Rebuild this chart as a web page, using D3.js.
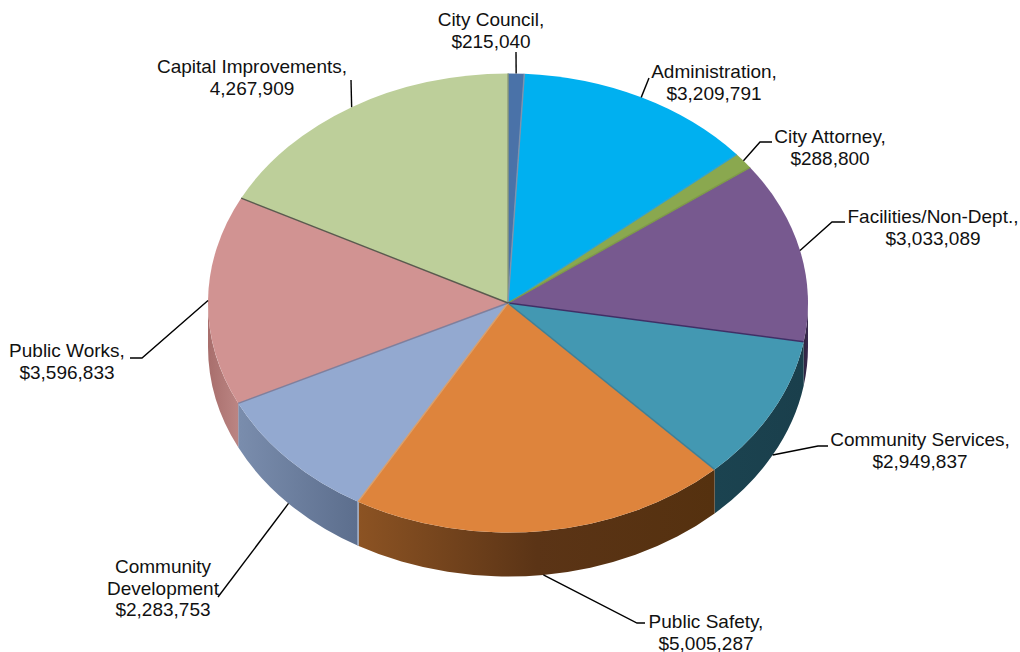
<!DOCTYPE html>
<html>
<head>
<meta charset="utf-8">
<script src="https://cdn.jsdelivr.net/npm/d3@7/dist/d3.min.js"></script>
<style>
  html, body { margin: 0; padding: 0; background: #fff; }
  svg { display: block; }
  text { font-family: "Liberation Sans", Arial, sans-serif; font-size: 19px; fill: #111; }
</style>
</head>
<body>
<svg id="chart" width="1020" height="652"></svg>
<script>
// Budget by department, clockwise from twelve o'clock
const departments = ["City Council", "Administration", "City Attorney", "Facilities/Non-Dept.",
  "Community Services", "Public Safety", "Community Development", "Public Works", "Capital Improvements"];
const budgets = [215040, 3209791, 288800, 3033089, 2949837, 5005287, 2283753, 3596833, 4267909];
const valueLabels = ["$215,040", "$3,209,791", "$288,800", "$3,033,089", "$2,949,837",
  "$5,005,287", "$2,283,753", "$3,596,833", "4,267,909"];

// Face, divider and rim colours per slice
const faceColors = ["#4a72a8", "#00b0f0", "#8aa84f", "#77598f", "#4398b2", "#de843c", "#93a9d0", "#d19392", "#bdcf9a"];
const dividerColors = ["#7f93ad", "#27a5d8", "#7e9a48", "#3f2f66", "#3f7f96", "#d9a06e", "#7f7f9c", "#5a5a4e", "#8e9b78"];
const rimStops = [
  null, null, null,
  ["#2f2340", "#3a2b4f"],
  ["#1b4350", "#1a3f4c"],
  ["#8c5323", "#5b3416", "#55310f"],
  ["#7a8dad", "#5c6e8d"],
  ["#a86e6c", "#bb8583"],
  null
];

// Tilted disc geometry
const cx = 508, cy = 303, rx = 300, ry = 229.5, depth = 44;
const rad = Math.PI / 180;

// The 3D view foreshortens angles a little as the disc turns towards the viewer
const viewAngle = d3.scaleLinear()
  .domain([0, 54, 98, 140, 213, 246, 298, 360].map(d => d * rad))
  .range([0, 54, 100, 136, 210, 244, 297, 360].map(d => d * rad));

const project = (a, drop = 0) => [cx + rx * Math.sin(a), cy - ry * Math.cos(a) + drop];

const svg = d3.select("#chart");
const defs = svg.append("defs");
const slices = d3.pie().sort(null).value(d => d)(budgets)
  .map(s => ({ ...s, a0: viewAngle(s.startAngle), a1: viewAngle(s.endAngle) }));

// Outer wall: only the part of each slice facing the viewer
const wallPath = (a0, a1) => {
  const [x0, y0] = project(a0);
  const [x1, y1] = project(a1);
  return `M${x0},${y0}A${rx},${ry} 0 0 1 ${x1},${y1}` +
         `L${x1},${y1 + depth}A${rx},${ry} 0 0 0 ${x0},${y0 + depth}Z`;
};

const walls = svg.append("g");
slices.forEach((s, i) => {
  const a0 = Math.max(s.a0, 90 * rad);
  const a1 = Math.min(s.a1, 270 * rad);
  if (a1 <= a0 || !rimStops[i]) return;
  const xs = [project(a0)[0], project(a1)[0]];
  const grad = defs.append("linearGradient")
    .attr("id", `rim${i}`)
    .attr("gradientUnits", "userSpaceOnUse")
    .attr("x1", d3.min(xs)).attr("x2", d3.max(xs))
    .attr("y1", 0).attr("y2", 0);
  rimStops[i].forEach((c, k, all) => {
    grad.append("stop")
      .attr("offset", k / (all.length - 1))
      .attr("stop-color", c);
  });
  walls.append("path")
    .attr("d", wallPath(a0, a1))
    .attr("fill", `url(#rim${i})`);
});

// Light seam on the community development wall, against public safety
const seamAngle = slices[5].a1;
walls.append("line")
  .attr("x1", project(seamAngle)[0]).attr("y1", project(seamAngle)[1])
  .attr("x2", project(seamAngle)[0]).attr("y2", project(seamAngle, depth)[1])
  .attr("stroke", "#a9b9d2").attr("stroke-width", 1.5);

// Top face: one elliptical wedge per slice
const facePath = d => {
  const [x0, y0] = project(d.a0);
  const [x1, y1] = project(d.a1);
  const large = d.a1 - d.a0 > Math.PI ? 1 : 0;
  return `M${cx},${cy}L${x0},${y0}A${rx},${ry} 0 ${large} 1 ${x1},${y1}Z`;
};
svg.append("g")
  .selectAll("path")
  .data(slices)
  .join("path")
  .attr("d", facePath)
  .attr("fill", (d, i) => faceColors[i]);

// Dividers between neighbouring slices
svg.append("g")
  .selectAll("line")
  .data(slices)
  .join("line")
  .attr("x1", cx).attr("y1", cy)
  .attr("x2", d => project(d.a0)[0])
  .attr("y2", d => project(d.a0)[1])
  .attr("stroke", (d, i) => dividerColors[(i + departments.length - 1) % departments.length])
  .attr("stroke-width", 1.4);

// Leader lines start on the rim at each slice's middle; the rest of the route is free-standing
const leaderDrop = [0, 0, 0, 0, depth, depth, depth, 0, 0];
const leaderRoutes = [
  [[516, 52]],
  [[649, 78]],
  [[760, 142], [772, 142]],
  [[832, 222], [845, 222]],
  [[818, 446], [828, 446]],
  [[637, 623], [645, 623]],
  [[218, 597]],
  [[142, 358], [130, 358]],
  [[351, 80]]
];
const leader = d3.line();
svg.append("g")
  .selectAll("path")
  .data(slices)
  .join("path")
  .attr("fill", "none")
  .attr("stroke", "#000")
  .attr("stroke-width", 1.4)
  .attr("d", (d, i) => {
    const mid = viewAngle((d.startAngle + d.endAngle) / 2);
    return leader([project(mid, leaderDrop[i]), ...leaderRoutes[i]]);
  });

// Department captions, wrapped as they appear on the chart
const captionLines = [
  ["City Council,"], ["Administration,"], ["City Attorney,"], ["Facilities/Non-Dept.,"],
  ["Community Services,"], ["Public Safety,"], ["Community", "Development"],
  ["Public Works,"], ["Capital Improvements,"]
];
const captionX = [491, 714, 830, 933, 920, 706, 163, 67, 252];
const captionY = [26, 78, 143, 223, 446, 628, 573, 357, 73];
const lineStep = 21.5;

const captions = svg.append("g")
  .selectAll("text")
  .data(departments)
  .join("text")
  .attr("text-anchor", "middle")
  .attr("x", (d, i) => captionX[i])
  .attr("y", (d, i) => captionY[i]);
captions.each(function (d, i) {
  const t = d3.select(this);
  [...captionLines[i], valueLabels[i]].forEach((line, k) => {
    t.append("tspan")
      .attr("x", captionX[i])
      .attr("dy", k ? lineStep : 0)
      .text(line);
  });
});
</script>
</body>
</html>
